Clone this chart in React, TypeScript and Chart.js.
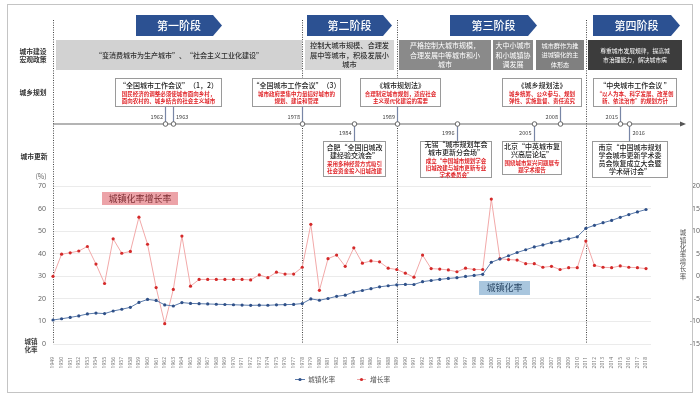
import React, { useEffect, useRef } from "react";
import { Chart, registerables } from "chart.js";
Chart.register(...registerables);

const years = [
  1949, 1950, 1951, 1952, 1953, 1954, 1955, 1956, 1957, 1958,
  1959, 1960, 1961, 1962, 1963, 1964, 1965, 1966, 1967, 1968,
  1969, 1970, 1971, 1972, 1973, 1974, 1975, 1976, 1977, 1978,
  1979, 1980, 1981, 1982, 1983, 1984, 1985, 1986, 1987, 1988,
  1989, 1990, 1991, 1992, 1993, 1994, 1995, 1996, 1997, 1998,
  1999, 2000, 2001, 2002, 2003, 2004, 2005, 2006, 2007, 2008,
  2009, 2010, 2011, 2012, 2013, 2014, 2015, 2016, 2017, 2018,
];

// 城镇化率 (%), left axis
const urbanRate = [
  10.64, 11.18, 11.78, 12.46, 13.31, 13.69, 13.48, 14.62, 15.39, 16.25,
  18.41, 19.75, 19.29, 17.33, 16.84, 18.37, 17.98, 17.86, 17.74, 17.62,
  17.5, 17.38, 17.26, 17.13, 17.2, 17.16, 17.34, 17.44, 17.55, 17.92,
  19.99, 19.39, 20.16, 21.13, 21.62, 23.01, 23.71, 24.52, 25.32, 25.81,
  26.21, 26.41, 26.37, 27.63, 28.14, 28.62, 29.04, 29.37, 29.92, 30.4,
  30.89, 36.22, 37.66, 39.09, 40.53, 41.76, 42.99, 43.9, 44.94, 45.68,
  46.59, 47.5, 51.27, 52.57, 53.73, 54.77, 56.1, 57.35, 58.52, 59.58,
];

// 增长率 (%), right axis
const growthRate = [
  0, 4.9, 5.2, 5.6, 6.6, 2.7, -1.6, 8.3, 5.1, 5.5,
  13.1, 7.1, -2.5, -10.5, -2.9, 8.9, -2.2, -0.7, -0.7, -0.7,
  -0.7, -0.7, -0.7, -0.8, 0.3, -0.3, 0.9, 0.5, 0.5, 2.0,
  11.5, -3.1, 3.9, 4.7, 2.2, 6.3, 2.9, 3.4, 3.2, 1.8,
  1.5, 0.7, -0.2, 4.7, 1.7, 1.6, 1.4, 1.0, 1.8, 1.5,
  1.5, 17.1, 3.9, 3.7, 3.6, 2.8, 2.8, 2.0, 2.2, 1.5,
  1.9, 1.9, 7.8, 2.4, 2.0, 1.9, 2.3, 2.0, 1.9, 1.7,
];

const stageBoundYears = [1949, 1978, 1989, 2011];
const stageNames = ["第一阶段", "第二阶段", "第三阶段", "第四阶段"];
const rowLabels = [["城市建设", "宏观政策"], ["城乡规划"], ["城市更新"]];

const policyTexts = [
  ["“变消费城市为生产城市”、“社会主义工业化建设”"],
  ["控制大城市规模、合理发", "展中等城市，积极发展小", "城市"],
  ["严格控制大城市规模，", "合理发展中等城市和小", "城市"],
  ["大中小城市", "和小城镇协", "调发展"],
  ["城市群作为推", "进城镇化的主", "体形态"],
  ["尊重城市发展规律，提高城", "市治理能力，解决城市病"],
];

const planYears = [[1962, 1963], [1978], [1989], [2008], [2015]];
const planTitles = [
  ["“全国城市工作会议”（1，2）"],
  ["“全国城市工作会议”（3）"],
  ["《城市规划法》"],
  ["《城乡规划法》"],
  ["“中央城市工作会议 ”"],
];
const planNotes = [
  ["国民经济的调整必须使城市面向乡村，", "面向农村的、城乡结合的社会主义城市"],
  ["城市政府要集中力量搞好城市的", "规划、建设和管理"],
  ["合理制定城市规划，适应社会", "主义现代化建设的需要"],
  ["城乡统筹、公众参与、规划", "弹性、实施监督、责任追究"],
  ["“以人为本、科学发展、改革创", "新、依法治市”的规划方针"],
];

const renewYears = [1984, 1996, 2005, 2016];
const renewTitles = [
  ["合肥“全国旧城改", "建经验交流会”"],
  ["无锡“城市规划年会", "城市更新分会场”"],
  ["北京“中英城市复", "兴高层论坛”"],
  ["南京“中国城市规划", "学会城市更新学术委", "员会恢复成立大会暨", "学术研讨会”"],
];
const renewNotes = [
  ["采用多种经营方式吸引", "社会资金投入旧城改建"],
  ["成立“中国城市规划学会", "旧城改建与城市更新专业", "学术委员会”"],
  ["围绕城市复兴问题展专", "题学术报告"],
  [],
];

// layout constants (pixels)
const FONT = '"Noto Sans CJK SC", "Noto Sans", sans-serif';
const bannerX = [[136, 222], [307, 392], [450, 537], [593, 680]];
const bandX = [[56, 302], [305, 394], [399, 491], [493, 533], [536, 584], [588, 682]];
const bandFill = ["#d2d2d2", "#d6d6d6", "#8a8a8a", "#8a8a8a", "#808080", "#3c3c3c"];
const bandColor = ["#333", "#333", "#fff", "#fff", "#fff", "#fff"];
const bandFont = [7, 7.2, 7, 7, 6.2, 5.8];
const planBoxX = [[115, 222], [252, 341], [360, 441], [502, 582], [593, 677]];
const renewBoxX = [[323, 386], [420, 492], [502, 562], [592, 668]];
const renewBoxBottom = [177, 178, 175, 178];
const TIMELINE_Y = 124;

function txt(ctx: CanvasRenderingContext2D, s: string, x: number, y: number, font: string, color: string, align: CanvasTextAlign = "center") {
  ctx.font = font;
  ctx.fillStyle = color;
  ctx.textAlign = align;
  ctx.textBaseline = "middle";
  ctx.fillText(s, x, y);
}

function drawBox(ctx: CanvasRenderingContext2D, x0: number, x1: number, y0: number, y1: number, black: string[], red: string[]) {
  ctx.fillStyle = "#fff";
  ctx.fillRect(x0, y0, x1 - x0, y1 - y0);
  ctx.strokeStyle = "#9a9a9a";
  ctx.lineWidth = 1;
  ctx.strokeRect(x0 + 0.5, y0 + 0.5, x1 - x0 - 1, y1 - y0 - 1);
  const bh = 8, rh = 7;
  const total = black.length * bh + (red.length ? 1 + red.length * rh : 0);
  let y = (y0 + y1) / 2 - total / 2;
  const cx = (x0 + x1) / 2;
  for (const s of black) {
    txt(ctx, s, cx, y + bh / 2, `500 7px ${FONT}`, "#222");
    y += bh;
  }
  y += 1;
  for (const s of red) {
    txt(ctx, s, cx, y + rh / 2, `bold 5.5px ${FONT}`, "#e0262a");
    y += rh;
  }
}

const decoPlugin = {
  id: "deco",
  beforeDatasetsDraw(chart: any) {
    const ctx: CanvasRenderingContext2D = chart.ctx;
    const xs = chart.scales.x;
    const ca = chart.chartArea;
    const X = (yr: number) => xs.getPixelForValue(yr);
    ctx.save();

    // frame
    ctx.strokeStyle = "#c4c4c4";
    ctx.lineWidth = 1;
    ctx.strokeRect(7.5, 4.5, 685, 388);

    // dotted stage separators
    ctx.setLineDash([1, 1.4]);
    ctx.strokeStyle = "#444";
    ctx.lineWidth = 1;
    for (const yr of stageBoundYears) {
      const x = Math.round(X(yr)) + 0.5;
      ctx.beginPath();
      ctx.moveTo(x, 20);
      ctx.lineTo(x, ca.bottom);
      ctx.stroke();
    }
    ctx.setLineDash([]);

    // banners
    bannerX.forEach(([x0, x1], i) => {
      ctx.fillStyle = "#2c5192";
      ctx.beginPath();
      ctx.moveTo(x0, 15);
      ctx.lineTo(x1 - 9, 15);
      ctx.lineTo(x1, 25.5);
      ctx.lineTo(x1 - 9, 36);
      ctx.lineTo(x0, 36);
      ctx.closePath();
      ctx.fill();
      txt(ctx, stageNames[i], (x0 + x1) / 2, 25.5, `500 11px ${FONT}`, "#fff");
    });

    // row labels
    txt(ctx, rowLabels[0][0], 33, 51, `bold 6.8px ${FONT}`, "#333");
    txt(ctx, rowLabels[0][1], 33, 59, `bold 6.8px ${FONT}`, "#333");
    txt(ctx, rowLabels[1][0], 33, 92, `bold 6.8px ${FONT}`, "#333");
    txt(ctx, rowLabels[2][0], 34, 156, `bold 6.8px ${FONT}`, "#333");

    // policy bands
    bandX.forEach(([x0, x1], i) => {
      ctx.fillStyle = bandFill[i];
      ctx.fillRect(x0, 40, x1 - x0, 30);
      const lines = policyTexts[i];
      const lh = 9.3;
      const start = 55 - ((lines.length - 1) * lh) / 2;
      lines.forEach((s, k) => txt(ctx, s, (x0 + x1) / 2, start + k * lh, `${i >= 2 ? "" : "500 "}${bandFont[i]}px ${FONT}`, bandColor[i]));
    });

    // timeline
    ctx.strokeStyle = "#6a6a6a";
    ctx.lineWidth = 1.2;
    ctx.beginPath();
    ctx.moveTo(ca.left, TIMELINE_Y);
    ctx.lineTo(683, TIMELINE_Y);
    ctx.stroke();
    ctx.fillStyle = "#555";
    ctx.beginPath();
    ctx.moveTo(686, TIMELINE_Y);
    ctx.lineTo(680, TIMELINE_Y - 2.5);
    ctx.lineTo(680, TIMELINE_Y + 2.5);
    ctx.closePath();
    ctx.fill();

    // connectors
    ctx.strokeStyle = "#7886a6";
    ctx.lineWidth = 1.2;
    planYears.forEach((ys) => {
      ys.forEach((yr) => {
        const x = Math.round(X(yr)) + 0.5;
        ctx.beginPath();
        ctx.moveTo(x, 107);
        ctx.lineTo(x, TIMELINE_Y);
        ctx.stroke();
      });
    });
    renewYears.forEach((yr) => {
      const x = Math.round(X(yr)) + 0.5;
      ctx.beginPath();
      ctx.moveTo(x, TIMELINE_Y);
      ctx.lineTo(x, 141);
      ctx.stroke();
    });

    // boxes
    planBoxX.forEach(([x0, x1], i) => drawBox(ctx, x0, x1, 78, 107, planTitles[i], planNotes[i]));
    renewBoxX.forEach(([x0, x1], i) => drawBox(ctx, x0, x1, 141, renewBoxBottom[i], renewTitles[i], renewNotes[i]));

    // milestone circles + year labels
    const allUp = planYears.flat();
    const drawCircle = (x: number) => {
      ctx.fillStyle = "#fff";
      ctx.strokeStyle = "#666";
      ctx.lineWidth = 1;
      ctx.beginPath();
      ctx.arc(x, TIMELINE_Y, 2.3, 0, Math.PI * 2);
      ctx.fill();
      ctx.stroke();
    };
    allUp.forEach((yr) => {
      const x = Math.round(X(yr)) + 0.5;
      drawCircle(x);
      const right = yr === 1963;
      txt(ctx, String(yr), right ? x + 2.5 : x - 2.5, 117, `5.6px ${FONT}`, "#444", right ? "left" : "right");
    });
    renewYears.forEach((yr) => {
      const x = Math.round(X(yr)) + 0.5;
      drawCircle(x);
      const right = yr === 2016;
      txt(ctx, String(yr), right ? x + 3 : x - 3, 132.5, `5.6px ${FONT}`, "#444", right ? "left" : "right");
    });

    // axis extras
    txt(ctx, "(%)", 41, 176, `7px ${FONT}`, "#666");
    txt(ctx, "城镇", 31, 341.5, `bold 6.5px ${FONT}`, "#444");
    txt(ctx, "化率", 31, 349.5, `bold 6.5px ${FONT}`, "#444");
    const rt = "城镇化率增长率";
    for (let k = 0; k < rt.length; k++) {
      txt(ctx, rt[k], 683, 233 + k * 7.2, `6.5px ${FONT}`, "#555");
    }

    ctx.restore();
  },
  afterDraw(chart: any) {
    const ctx: CanvasRenderingContext2D = chart.ctx;
    ctx.save();
    // series callouts
    ctx.fillStyle = "#eca3a8";
    ctx.fillRect(102, 192, 76, 13);
    txt(ctx, "城镇化率增长率", 140, 198.5, `9px ${FONT}`, "#7e2f34");
    ctx.fillStyle = "#a9c6de";
    ctx.fillRect(479, 281, 51, 14);
    txt(ctx, "城镇化率", 504.5, 288, `9px ${FONT}`, "#2b4866");

    // legend
    ctx.strokeStyle = "#5b7bab";
    ctx.lineWidth = 1;
    ctx.beginPath();
    ctx.moveTo(295, 379.5);
    ctx.lineTo(305, 379.5);
    ctx.stroke();
    ctx.fillStyle = "#2f5088";
    ctx.beginPath();
    ctx.arc(300, 379.5, 1.6, 0, Math.PI * 2);
    ctx.fill();
    txt(ctx, "城镇化率", 308, 379.5, `6.8px ${FONT}`, "#555", "left");
    ctx.strokeStyle = "#f0a8a8";
    ctx.beginPath();
    ctx.moveTo(357, 379.5);
    ctx.lineTo(366, 379.5);
    ctx.stroke();
    ctx.fillStyle = "#d42a2a";
    ctx.beginPath();
    ctx.arc(361.5, 379.5, 1.6, 0, Math.PI * 2);
    ctx.fill();
    txt(ctx, "增长率", 370, 379.5, `6.8px ${FONT}`, "#555", "left");
    ctx.restore();
  },
};

export default function App() {
  const ref = useRef<HTMLCanvasElement>(null);
  useEffect(() => {
    if (!ref.current) return;
    const chart = new Chart(ref.current, {
      type: "line",
      data: {
        datasets: [
          {
            label: "城镇化率",
            data: years.map((y, i) => ({ x: y, y: urbanRate[i] })),
            yAxisID: "y",
            borderColor: "#5b7bab",
            borderWidth: 1,
            pointRadius: 1.6,
            pointBackgroundColor: "#2f5088",
            pointBorderColor: "#2f5088",
            pointBorderWidth: 0,
            tension: 0,
            clip: false,
          },
          {
            label: "增长率",
            data: years.map((y, i) => ({ x: y, y: growthRate[i] })),
            yAxisID: "y1",
            borderColor: "#f2a9a9",
            borderWidth: 1,
            pointRadius: 1.6,
            pointBackgroundColor: "#d42a2a",
            pointBorderColor: "#d42a2a",
            pointBorderWidth: 0,
            tension: 0,
            clip: false,
          },
        ],
      },
      options: {
        responsive: false,
        animation: false,
        layout: { padding: { top: 186, left: 0, right: 0, bottom: 0 } },
        plugins: { legend: { display: false }, tooltip: { enabled: false } },
        scales: {
          x: {
            type: "linear",
            min: 1949,
            max: 2018.58,
            afterBuildTicks: (s: any) => {
              s.ticks = years.map((v) => ({ value: v }));
            },
            afterFit: (s: any) => {
              s.height = 53;
            },
            grid: { display: false },
            border: { display: false },
            ticks: {
              autoSkip: false,
              minRotation: 90,
              maxRotation: 90,
              padding: 5,
              font: { size: 5, family: '"Noto Sans", sans-serif' },
              color: "#777",
              callback: (v: any) => String(v),
            },
          },
          y: {
            position: "left",
            min: 0,
            max: 70,
            afterFit: (s: any) => {
              s.width = 53;
            },
            grid: { color: "#ebebeb", drawTicks: false },
            border: { display: false },
            ticks: { stepSize: 10, padding: 7, font: { size: 7, family: '"Noto Sans", sans-serif' }, color: "#666" },
          },
          y1: {
            position: "right",
            min: -15,
            max: 20,
            afterFit: (s: any) => {
              s.width = 49;
            },
            grid: { display: false, drawTicks: false },
            border: { display: false },
            ticks: {
              stepSize: 5,
              padding: 8,
              crossAlign: "far",
              font: { size: 7, family: '"Noto Sans", sans-serif' },
              color: "#666",
            },
          },
        },
      },
      plugins: [decoPlugin],
    });
    return () => chart.destroy();
  }, []);
  return (
    <div style={{ position: "absolute", left: 0, top: 0, width: 700, height: 397, background: "#fff" }}>
      <canvas ref={ref} width={700} height={397} style={{ width: 700, height: 397, display: "block" }} />
    </div>
  );
}
